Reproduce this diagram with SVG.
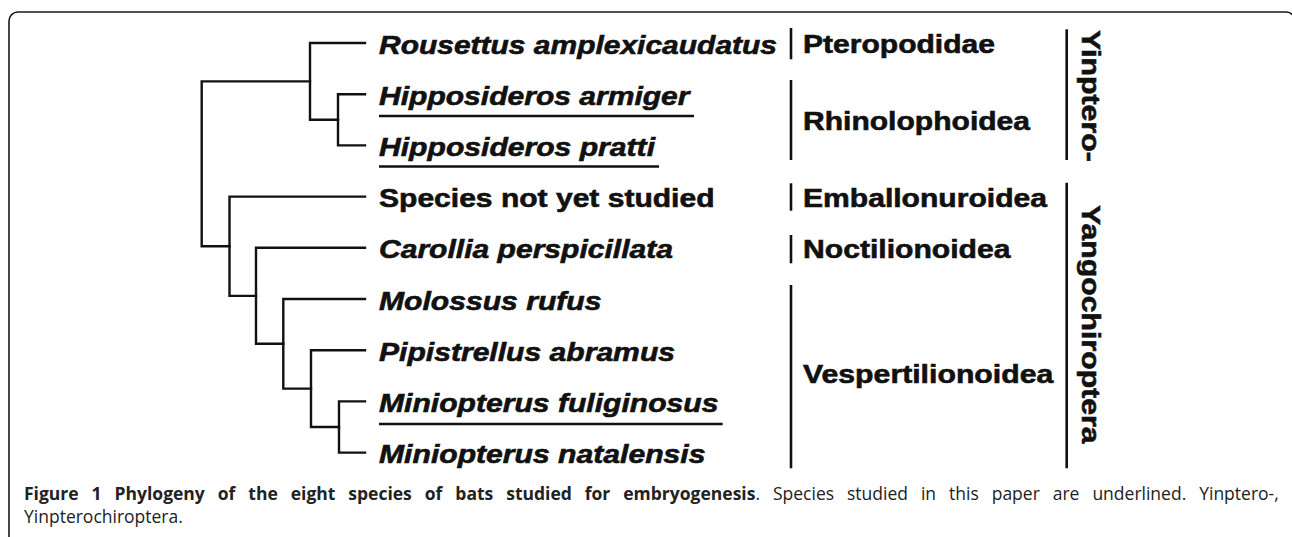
<svg xmlns="http://www.w3.org/2000/svg" width="1292" height="537" viewBox="0 0 1292 537">
<style>
.frame{fill:none;stroke:#1a1a1a;stroke-width:1.6}
.tree{fill:none;stroke:#111;stroke-width:2.4;stroke-linecap:square;stroke-linejoin:miter}
.bar{stroke:#111;stroke-width:2.6}
.ul{stroke:#111;stroke-width:2.3}
.sp,.spn,.grp{font-family:"Liberation Sans",Arial,sans-serif;font-weight:bold;font-size:26px;fill:#111;stroke:#111;stroke-width:0.6}
.sp{font-style:italic}
.cap{font-family:"Open Sans","Noto Sans",sans-serif;font-size:17.5px;fill:#222;word-spacing:8.4px}
.capb{font-weight:bold}
</style>
<rect class="frame" x="9" y="12" width="1286" height="600" rx="9" ry="9"/>
<g id="connectors">
<path class="tree" d="M365 94.2 H338 V145.4 H365"/>
<path class="tree" d="M365 43 H310 V119.8 H338"/>
<path class="tree" d="M365 401.4 H339 V452.6 H365"/>
<path class="tree" d="M365 350.2 H311 V427 H339"/>
<path class="tree" d="M365 299 H283.3 V388.6 H311"/>
<path class="tree" d="M365 247.8 H256 V343.8 H283.3"/>
<path class="tree" d="M365 196.6 H229.5 V295.9 H256"/>
<path class="tree" d="M310 81.4 H201.7 V246.3 H229.5"/>
</g>
<g id="leaf-rousettus"><text class="sp" x="379" y="53.5" textLength="398" lengthAdjust="spacingAndGlyphs">Rousettus amplexicaudatus</text></g>
<g id="leaf-hipposideros-armiger"><text class="sp" x="379" y="104.7" textLength="310.5" lengthAdjust="spacingAndGlyphs">Hipposideros armiger</text><line class="ul" x1="379" y1="116" x2="694" y2="116"/></g>
<g id="leaf-hipposideros-pratti"><text class="sp" x="379" y="155.9" textLength="276" lengthAdjust="spacingAndGlyphs">Hipposideros pratti</text><line class="ul" x1="379" y1="166.5" x2="659" y2="166.5"/></g>
<g id="leaf-not-studied"><text class="spn" x="379" y="207.1" textLength="335.5" lengthAdjust="spacingAndGlyphs">Species not yet studied</text></g>
<g id="leaf-carollia"><text class="sp" x="379" y="258.3" textLength="294" lengthAdjust="spacingAndGlyphs">Carollia perspicillata</text></g>
<g id="leaf-molossus"><text class="sp" x="379" y="309.5" textLength="222.5" lengthAdjust="spacingAndGlyphs">Molossus rufus</text></g>
<g id="leaf-pipistrellus"><text class="sp" x="379" y="360.7" textLength="296" lengthAdjust="spacingAndGlyphs">Pipistrellus abramus</text></g>
<g id="leaf-miniopterus-fuliginosus"><text class="sp" x="379" y="411.9" textLength="339.5" lengthAdjust="spacingAndGlyphs">Miniopterus fuliginosus</text><line class="ul" x1="379" y1="424" x2="722.7" y2="424"/></g>
<g id="leaf-miniopterus-natalensis"><text class="sp" x="379" y="463.1" textLength="326.5" lengthAdjust="spacingAndGlyphs">Miniopterus natalensis</text></g>
<g id="grp-pteropodidae"><line class="bar" x1="791" y1="28" x2="791" y2="59.3"/><text class="grp" x="803" y="53.3" textLength="192" lengthAdjust="spacingAndGlyphs">Pteropodidae</text></g>
<g id="grp-rhinolophoidea"><line class="bar" x1="791" y1="80" x2="791" y2="160"/><text class="grp" x="803" y="130" textLength="227" lengthAdjust="spacingAndGlyphs">Rhinolophoidea</text></g>
<g id="grp-emballonuroidea"><line class="bar" x1="791" y1="183.3" x2="791" y2="210.7"/><text class="grp" x="803" y="206.7" textLength="244" lengthAdjust="spacingAndGlyphs">Emballonuroidea</text></g>
<g id="grp-noctilionoidea"><line class="bar" x1="791" y1="235" x2="791" y2="263.3"/><text class="grp" x="803" y="258.3" textLength="207.5" lengthAdjust="spacingAndGlyphs">Noctilionoidea</text></g>
<g id="grp-vespertilionoidea"><line class="bar" x1="791" y1="285" x2="791" y2="468.3"/><text class="grp" x="803" y="383.3" textLength="250.3" lengthAdjust="spacingAndGlyphs">Vespertilionoidea</text></g>
<g id="sub-yinptero"><line class="bar" x1="1066.7" y1="29.3" x2="1066.7" y2="160"/><text class="grp" transform="translate(1082 30) rotate(90)" x="0" y="0" textLength="131.8" lengthAdjust="spacingAndGlyphs">Yinptero-</text></g>
<g id="sub-yango"><line class="bar" x1="1066.7" y1="182.7" x2="1066.7" y2="468.3"/><text class="grp" transform="translate(1082 205) rotate(90)" x="0" y="0" textLength="238.6" lengthAdjust="spacingAndGlyphs">Yangochiroptera</text></g>
<g id="caption">
<text class="cap" x="24" y="500"><tspan class="capb">Figure 1 Phylogeny of the eight species of bats studied for embryogenesis</tspan>. Species studied in this paper are underlined. Yinptero-,</text>
<text class="cap" x="24" y="523">Yinpterochiroptera.</text>
</g>
</svg>
